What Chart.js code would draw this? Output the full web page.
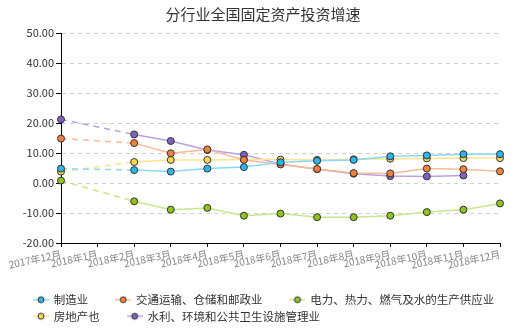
<!DOCTYPE html>
<html>
<head>
<meta charset="utf-8">
<script src="https://cdn.jsdelivr.net/npm/chart.js@4.4.1/dist/chart.umd.min.js"></script>
<style>
  html, body { margin: 0; padding: 0; background: #fff; }
</style>
</head>
<body>
<canvas id="lineChart" width="526" height="335"></canvas>
<script>
const months = ['2017年12月', '2018年1月', '2018年2月', '2018年3月', '2018年4月', '2018年5月',
  '2018年6月', '2018年7月', '2018年8月', '2018年9月', '2018年10月', '2018年11月', '2018年12月'];

// 累计增速(%)，1月无数据
const manufacturing = [4.8, null, 4.3, 3.8, 4.8, 5.3, 6.9, 7.4, 7.7, 8.9, 9.2, 9.6, 9.6];
const transport     = [14.8, null, 13.3, 9.9, 11.2, 7.7, 6.2, 4.7, 3.3, 3.2, 4.8, 4.6, 3.9];
const utilities     = [0.8, null, -6.1, -8.9, -8.3, -10.9, -10.2, -11.4, -11.4, -10.9, -9.7, -8.9, -6.8];
const realEstate    = [3.8, null, 7.0, 7.7, 7.7, 7.8, 7.8, 7.7, 7.9, 8.1, 8.2, 8.3, 8.3];
const waterEnv      = [21.2, null, 16.2, 14.0, 11.0, 9.4, 6.3, 4.6, 3.1, 2.3, 2.2, 2.5, null];

const yTicks = [-20, -10, 0, 10, 20, 30, 40, 50];

const font = '"Noto Sans CJK SC", "Noto Sans", sans-serif';

const series = [
  { label: '制造业', data: manufacturing, line: '#8ad8f4', point: '#2cb6ea' },
  { label: '交通运输、仓储和邮政业', data: transport, line: '#f7bb96', point: '#f0813f' },
  { label: '电力、热力、燃气及水的生产供应业', data: utilities, line: '#c9e68c', point: '#8cc420' },
  { label: '房地产也', data: realEstate, line: '#fbe48c', point: '#f8d757' },
  { label: '水利、环境和公共卫生设施管理业', data: waterEnv, line: '#b9a2e2', point: '#8460c2' }
];

// legend marker: short line with a dot in the middle
function makeMarker(s) {
  const c = document.createElement('canvas');
  c.width = 16; c.height = 10;
  const g = c.getContext('2d');
  g.strokeStyle = s.line;
  g.lineWidth = 1.5;
  g.beginPath(); g.moveTo(0, 5); g.lineTo(16, 5); g.stroke();
  g.beginPath(); g.arc(8, 5, 3, 0, Math.PI * 2);
  g.fillStyle = s.point; g.fill();
  g.strokeStyle = '#333'; g.lineWidth = 1; g.stroke();
  return c;
}
const markers = series.map(makeMarker);

const gapDash = ctx => (ctx.p0.skip || ctx.p1.skip) ? [6, 5] : undefined;

// push the legend rows in from the left edge
const legendIndent = {
  id: 'legendIndent',
  afterLayout(chart) {
    if (chart.legend) chart.legend.left = 29;
  }
};

new Chart(document.getElementById('lineChart'), {
  type: 'line',
  data: {
    labels: months,
    datasets: series.map(s => ({
      label: s.label,
      data: s.data,
      borderColor: s.line,
      borderWidth: 1.5,
      backgroundColor: s.point,
      pointBackgroundColor: s.point,
      pointBorderColor: '#333',
      pointBorderWidth: 1,
      pointRadius: 3.5,
      tension: 0,
      spanGaps: true,
      segment: { borderDash: gapDash }
    }))
  },
  plugins: [legendIndent],
  options: {
    responsive: false,
    animation: false,
    layout: { padding: { top: 3, left: 0, right: 0, bottom: 3 } },
    plugins: {
      title: {
        display: true,
        text: '分行业全国固定资产投资增速',
        color: '#333',
        font: { family: font, size: 15, weight: 'normal' },
        padding: { top: 2, bottom: 10 }
      },
      legend: {
        position: 'bottom',
        align: 'start',
        labels: {
          usePointStyle: true,
          pointStyleWidth: 14,
          padding: 5,
          color: '#333',
          font: { family: font, size: 11.5 },
          generateLabels: chart => {
            const items = Chart.defaults.plugins.legend.labels.generateLabels(chart);
            return items.map((it, i) => Object.assign(it, {
              pointStyle: markers[i],
              text: it.text + '\u3000\u3000'
            }));
          }
        }
      },
      tooltip: { enabled: false }
    },
    scales: {
      x: {
        grid: { drawOnChartArea: false, drawTicks: true, tickLength: 4, tickColor: '#000' },
        border: { color: '#000', width: 1 },
        ticks: {
          autoSkip: false,
          minRotation: 12,
          maxRotation: 12,
          padding: 1,
          color: '#888',
          font: { family: font, size: 10 }
        },
        afterFit: s => { s.height = 46; s.paddingLeft = 0; s.paddingRight = 26; }
      },
      y: {
        min: yTicks[0],
        max: yTicks[yTicks.length - 1],
        afterBuildTicks: s => { s.ticks = yTicks.map(v => ({ value: v })); },
        grid: {
          color: '#cfcfcf',
          lineWidth: 1,
          tickColor: '#000',
          tickLength: 5,
          tickBorderDash: [1, 0]
        },
        border: { color: '#000', width: 1, dash: [4, 4] },
        ticks: {
          padding: 2,
          color: '#333',
          font: { family: font, size: 11 },
          callback: v => Number(v).toFixed(2)
        },
        afterFit: s => { s.width = 61; }
      }
    }
  }
});
</script>
</body>
</html>
